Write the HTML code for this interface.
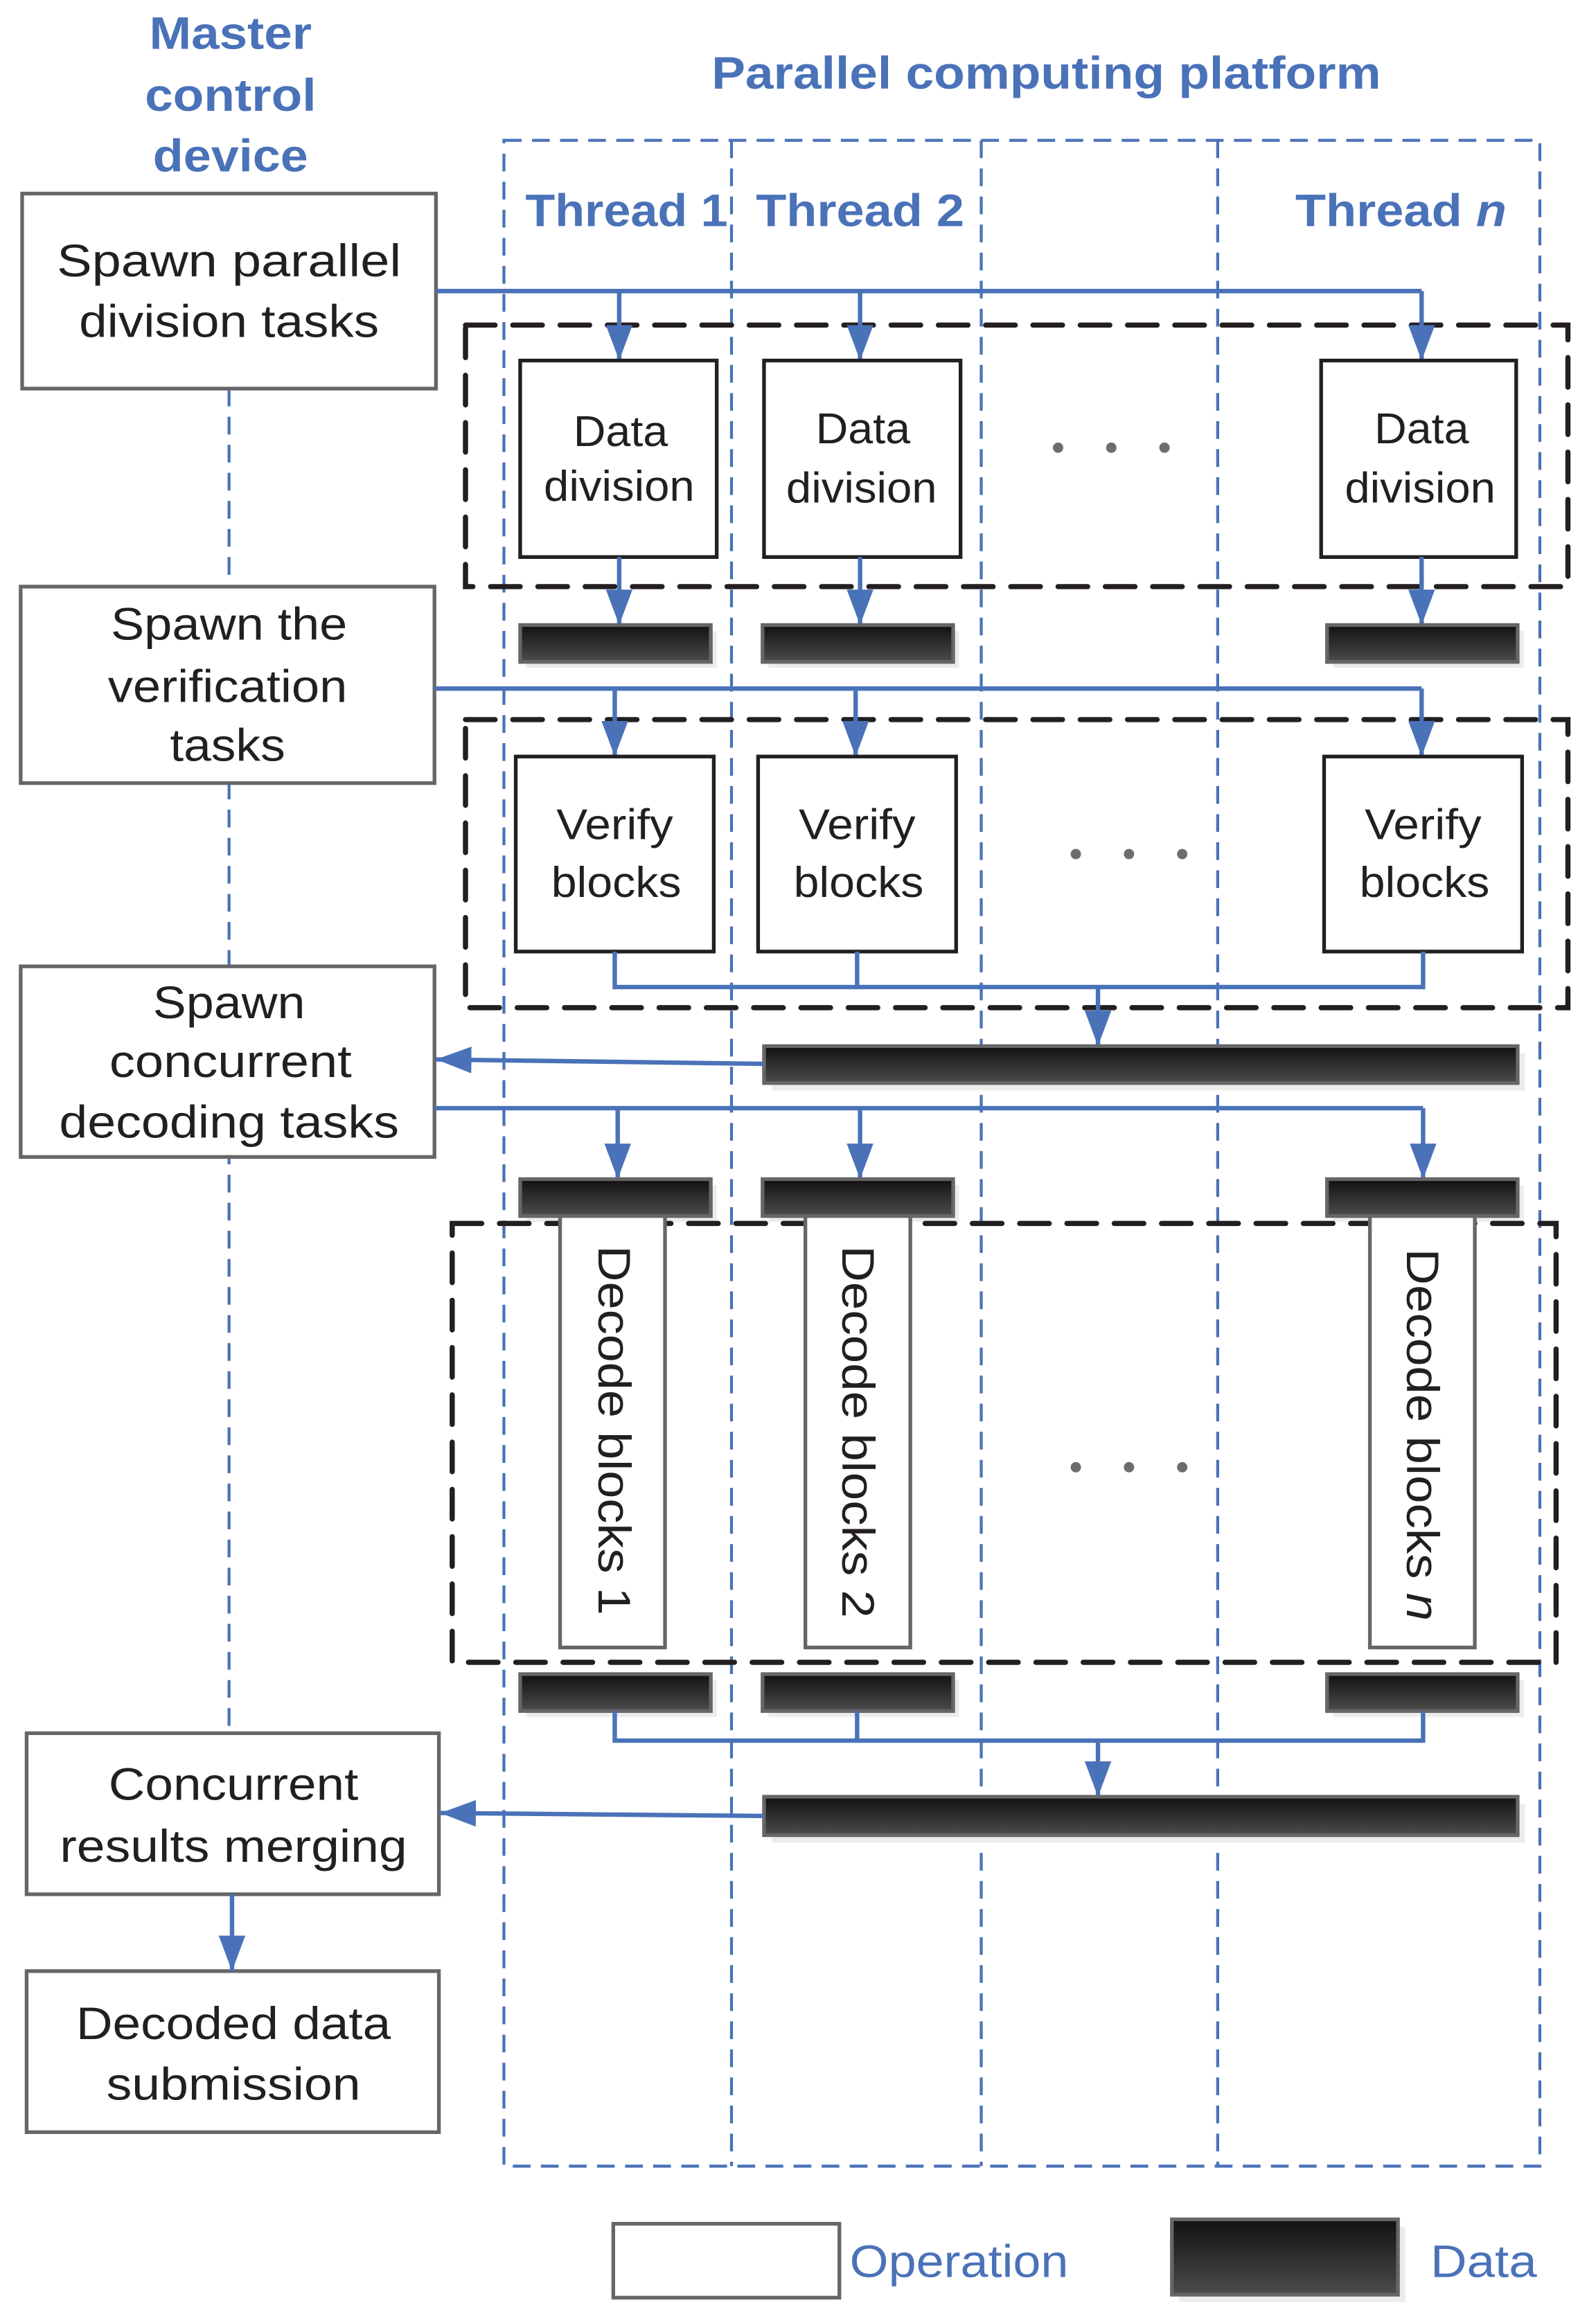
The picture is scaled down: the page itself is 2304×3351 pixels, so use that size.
<!DOCTYPE html>
<html><head><meta charset="utf-8"><style>
html,body{margin:0;padding:0;background:#fff}
svg{display:block}
text{font-family:"Liberation Sans",sans-serif}
.t{font-size:31px;fill:#231f20;text-anchor:middle}
.s{font-size:29px;fill:#231f20;text-anchor:middle}
.h{font-size:31px;fill:#4a72b8;font-weight:bold;text-anchor:middle}
.bl{stroke:#4a72b8;stroke-width:3;fill:none}
.bd{stroke:#4a72b8;stroke-width:2;fill:none;stroke-dasharray:12,7}
.kd{stroke:#231f20;stroke-width:3.5;fill:none;stroke-dasharray:20,12;stroke-linecap:round}
.op{fill:#fff;stroke:#666;stroke-width:2.5}
.ob{fill:#fff;stroke:#231f20;stroke-width:2.5}
</style></head><body>
<svg width="2304" height="3351" viewBox="0 0 1080 1570.8" preserveAspectRatio="none" xmlns="http://www.w3.org/2000/svg">
<defs>
<linearGradient id="g" x1="0" y1="0" x2="0" y2="1"><stop offset="0" stop-color="#111"/><stop offset="1" stop-color="#4c4c4c"/></linearGradient>
<marker id="d" viewBox="0 0 24 18" refX="24" refY="9" markerWidth="24" markerHeight="18" orient="auto" markerUnits="userSpaceOnUse"><path d="M0,0 L24,9 L0,18 z" fill="#4a72b8"/></marker>
</defs>

<text class="h" x="156" y="33" textLength="110" lengthAdjust="spacingAndGlyphs">Master</text>
<text class="h" x="156" y="75" textLength="116" lengthAdjust="spacingAndGlyphs">control</text>
<text class="h" x="156" y="116" textLength="105" lengthAdjust="spacingAndGlyphs">device</text>
<text class="h" x="708" y="60" textLength="453" lengthAdjust="spacingAndGlyphs">Parallel computing platform</text>

<rect class="bd" x="341" y="95" width="701" height="1371"/>
<line class="bd" x1="495" y1="95" x2="495" y2="1466"/>
<line class="bd" x1="664" y1="95" x2="664" y2="1466"/>
<line class="bd" x1="824" y1="95" x2="824" y2="1466"/>
<text class="h" x="424" y="153" textLength="137" lengthAdjust="spacingAndGlyphs">Thread 1</text>
<text class="h" x="582" y="153" textLength="141" lengthAdjust="spacingAndGlyphs">Thread 2</text>
<text class="h" x="948" y="153" textLength="143" lengthAdjust="spacingAndGlyphs">Thread <tspan font-style="italic">n</tspan></text>

<line class="bd" x1="155" y1="263" x2="155" y2="1173" stroke-dasharray="18,10" stroke-width="2.5"/>

<rect class="op" x="15" y="131" width="280" height="132"/>
<text class="t" x="155" y="187" textLength="233" lengthAdjust="spacingAndGlyphs">Spawn  parallel</text>
<text class="t" x="155" y="228" textLength="203" lengthAdjust="spacingAndGlyphs">division tasks</text>
<rect class="op" x="14" y="397" width="280" height="133"/>
<text class="t" x="155" y="433" textLength="160" lengthAdjust="spacingAndGlyphs">Spawn the</text>
<text class="t" x="154" y="475" textLength="162" lengthAdjust="spacingAndGlyphs">verification</text>
<text class="t" x="154" y="515" textLength="78" lengthAdjust="spacingAndGlyphs">tasks</text>
<rect class="op" x="14" y="654" width="280" height="129"/>
<text class="t" x="155" y="689" textLength="103" lengthAdjust="spacingAndGlyphs">Spawn</text>
<text class="t" x="156" y="729" textLength="164" lengthAdjust="spacingAndGlyphs">concurrent</text>
<text class="t" x="155" y="770" textLength="230" lengthAdjust="spacingAndGlyphs">decoding tasks</text>
<rect class="op" x="18" y="1173" width="279" height="109"/>
<text class="t" x="158" y="1218" textLength="169" lengthAdjust="spacingAndGlyphs">Concurrent</text>
<text class="t" x="158" y="1260" textLength="235" lengthAdjust="spacingAndGlyphs">results merging</text>
<rect class="op" x="18" y="1334" width="279" height="109"/>
<text class="t" x="158" y="1380" textLength="213" lengthAdjust="spacingAndGlyphs">Decoded data</text>
<text class="t" x="158" y="1421" textLength="172" lengthAdjust="spacingAndGlyphs">submission</text>
<line class="bl" x1="157" y1="1282" x2="157" y2="1334" marker-end="url(#d)"/>

<rect class="kd" x="315" y="220" width="746" height="177"/>
<polyline class="bl" points="295,197 962,197"/>
<line class="bl" x1="419" y1="197" x2="419" y2="244" marker-end="url(#d)"/>
<line class="bl" x1="582" y1="197" x2="582" y2="244" marker-end="url(#d)"/>
<line class="bl" x1="962" y1="197" x2="962" y2="244" marker-end="url(#d)"/>
<rect class="ob" x="352" y="244" width="133" height="133"/>
<rect class="ob" x="517" y="244" width="133" height="133"/>
<rect class="ob" x="894" y="244" width="132" height="133"/>
<text class="s" x="420" y="302" textLength="64" lengthAdjust="spacingAndGlyphs">Data</text>
<text class="s" x="419" y="339" textLength="102" lengthAdjust="spacingAndGlyphs">division</text>
<text class="s" x="584" y="300" textLength="64" lengthAdjust="spacingAndGlyphs">Data</text>
<text class="s" x="583" y="340" textLength="102" lengthAdjust="spacingAndGlyphs">division</text>
<text class="s" x="962" y="300" textLength="64" lengthAdjust="spacingAndGlyphs">Data</text>
<text class="s" x="961" y="340" textLength="102" lengthAdjust="spacingAndGlyphs">division</text>
<g fill="#6d6d6d"><circle cx="716" cy="303" r="3.5"/><circle cx="752" cy="303" r="3.5"/><circle cx="788" cy="303" r="3.5"/></g>
<line class="bl" x1="419" y1="377" x2="419" y2="423" marker-end="url(#d)"/>
<line class="bl" x1="582" y1="377" x2="582" y2="423" marker-end="url(#d)"/>
<line class="bl" x1="962" y1="377" x2="962" y2="423" marker-end="url(#d)"/>

<g stroke="#666" stroke-width="2.5" fill="url(#g)">
<rect x="356" y="427" width="129" height="25" fill="#ececec" stroke="none"/>
<rect x="520" y="427" width="129" height="25" fill="#ececec" stroke="none"/>
<rect x="902" y="427" width="129" height="25" fill="#ececec" stroke="none"/>
<rect x="352" y="423" width="129" height="25"/>
<rect x="516" y="423" width="129" height="25"/>
<rect x="898" y="423" width="129" height="25"/>
</g>

<rect class="kd" x="315" y="487" width="746" height="195"/>
<polyline class="bl" points="294,466 962,466"/>
<line class="bl" x1="416" y1="466" x2="416" y2="512" marker-end="url(#d)"/>
<line class="bl" x1="579" y1="466" x2="579" y2="512" marker-end="url(#d)"/>
<line class="bl" x1="962" y1="466" x2="962" y2="512" marker-end="url(#d)"/>
<rect class="ob" x="349" y="512" width="134" height="132"/>
<rect class="ob" x="513" y="512" width="134" height="132"/>
<rect class="ob" x="896" y="512" width="134" height="132"/>
<text class="s" x="416" y="568" textLength="79" lengthAdjust="spacingAndGlyphs">Verify</text>
<text class="s" x="417" y="607" textLength="88" lengthAdjust="spacingAndGlyphs">blocks</text>
<text class="s" x="580" y="568" textLength="79" lengthAdjust="spacingAndGlyphs">Verify</text>
<text class="s" x="581" y="607" textLength="88" lengthAdjust="spacingAndGlyphs">blocks</text>
<text class="s" x="963" y="568" textLength="79" lengthAdjust="spacingAndGlyphs">Verify</text>
<text class="s" x="964" y="607" textLength="88" lengthAdjust="spacingAndGlyphs">blocks</text>
<g fill="#6d6d6d"><circle cx="728" cy="578" r="3.5"/><circle cx="764" cy="578" r="3.5"/><circle cx="800" cy="578" r="3.5"/></g>
<polyline class="bl" points="416,644 416,668 963,668 963,644"/>
<line class="bl" x1="580" y1="644" x2="580" y2="668"/>
<line class="bl" x1="743" y1="668" x2="743" y2="708" marker-end="url(#d)"/>
<rect x="522" y="713" width="510" height="25" fill="#ececec"/>
<rect x="517" y="708" width="510" height="25" fill="url(#g)" stroke="#666" stroke-width="2.5"/>
<line class="bl" x1="517" y1="720" x2="295" y2="717" marker-end="url(#d)"/>

<polyline class="bl" points="294,750 963,750"/>
<line class="bl" x1="418" y1="750" x2="418" y2="798" marker-end="url(#d)"/>
<line class="bl" x1="582" y1="750" x2="582" y2="798" marker-end="url(#d)"/>
<line class="bl" x1="963" y1="750" x2="963" y2="798" marker-end="url(#d)"/>
<g stroke="#666" stroke-width="2.5" fill="url(#g)">
<rect x="356" y="802" width="129" height="25" fill="#ececec" stroke="none"/>
<rect x="520" y="802" width="129" height="25" fill="#ececec" stroke="none"/>
<rect x="902" y="802" width="129" height="25" fill="#ececec" stroke="none"/>
<rect x="352" y="798" width="129" height="25"/>
<rect x="516" y="798" width="129" height="25"/>
<rect x="898" y="798" width="129" height="25"/>
</g>
<rect class="kd" x="306" y="828" width="747" height="297"/>
<rect class="op" x="379" y="823" width="71" height="292" stroke-width="2"/>
<rect class="op" x="545" y="823" width="71" height="292" stroke-width="2"/>
<rect class="op" x="927" y="823" width="71" height="292" stroke-width="2"/>
<text class="t" transform="translate(405,843) rotate(90)" style="text-anchor:start" textLength="250" lengthAdjust="spacingAndGlyphs">Decode blocks 1</text>
<text class="t" transform="translate(570,843) rotate(90)" style="text-anchor:start" textLength="252" lengthAdjust="spacingAndGlyphs">Decode blocks 2</text>
<text class="t" transform="translate(952,845) rotate(90)" style="text-anchor:start" textLength="252" lengthAdjust="spacingAndGlyphs">Decode blocks <tspan font-style="italic">n</tspan></text>
<g fill="#6d6d6d"><circle cx="728" cy="993" r="3.5"/><circle cx="764" cy="993" r="3.5"/><circle cx="800" cy="993" r="3.5"/></g>
<g stroke="#666" stroke-width="2.5" fill="url(#g)">
<rect x="356" y="1137" width="129" height="25" fill="#ececec" stroke="none"/>
<rect x="520" y="1137" width="129" height="25" fill="#ececec" stroke="none"/>
<rect x="902" y="1137" width="129" height="25" fill="#ececec" stroke="none"/>
<rect x="352" y="1133" width="129" height="25"/>
<rect x="516" y="1133" width="129" height="25"/>
<rect x="898" y="1133" width="129" height="25"/>
</g>
<polyline class="bl" points="416,1158 416,1178 963,1178 963,1158"/>
<line class="bl" x1="580" y1="1158" x2="580" y2="1178"/>
<line class="bl" x1="743" y1="1178" x2="743" y2="1216" marker-end="url(#d)"/>
<rect x="522" y="1221" width="510" height="26" fill="#ececec"/>
<rect x="517" y="1216" width="510" height="26" fill="url(#g)" stroke="#666" stroke-width="2.5"/>
<line class="bl" x1="517" y1="1229" x2="298" y2="1227" marker-end="url(#d)"/>

<rect class="op" x="415" y="1505" width="153" height="50"/>
<text x="575" y="1541" font-size="31" fill="#4a72b8" textLength="148" lengthAdjust="spacingAndGlyphs">Operation</text>
<rect x="798" y="1507" width="153" height="51" fill="#ececec"/>
<rect x="793" y="1502" width="153" height="51" fill="url(#g)" stroke="#666" stroke-width="2.5"/>
<text x="968" y="1541" font-size="31" fill="#4a72b8" textLength="72" lengthAdjust="spacingAndGlyphs">Data</text>
</svg>
</body></html>
